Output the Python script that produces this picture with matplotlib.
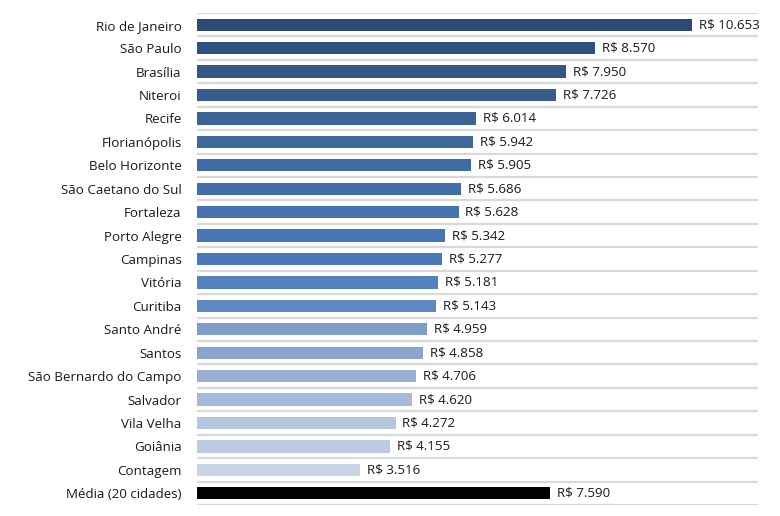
import matplotlib.pyplot as plt

cidades = ['Rio de Janeiro', 'São Paulo', 'Brasília', 'Niteroi', 'Recife',
           'Florianópolis', 'Belo Horizonte', 'São Caetano do Sul', 'Fortaleza',
           'Porto Alegre', 'Campinas', 'Vitória', 'Curitiba', 'Santo André',
           'Santos', 'São Bernardo do Campo', 'Salvador', 'Vila Velha',
           'Goiânia', 'Contagem', 'Média (20 cidades)']
valores = [10653, 8570, 7950, 7726, 6014, 5942, 5905, 5686, 5628, 5342,
           5277, 5181, 5143, 4959, 4858, 4706, 4620, 4272, 4155, 3516, 7590]
cores = ['#2e4a74', '#30507f', '#345786', '#375c8e', '#3b6398',
         '#3e679d', '#406ba3', '#436fa9', '#4572ae', '#4775b3',
         '#4a78b8', '#5581bd', '#5e88c0', '#7f9bc9', '#8ba4cd',
         '#99afd3', '#a7bad9', '#b5c4df', '#bccae2', '#c8d3e6', '#000000']

plt.rcParams['font.family'] = ['Open Sans', 'DejaVu Sans']

fig = plt.figure(figsize=(7.8, 5.16), dpi=100)
ax = fig.add_axes([197/780, 11/516, 561/780, 492/516])

pos = list(range(len(cidades)))
ax.hlines([p - 0.5 for p in pos] + [pos[-1] + 0.5], 0, 1,
          transform=ax.get_yaxis_transform(), color='#d9d9d9', lw=1.6, zorder=0)
ax.barh(pos, valores, height=0.52, color=cores, zorder=2)

for p, v in zip(pos, valores):
    txt = 'R$ ' + f'{v:,}'.replace(',', '.')
    ax.annotate(txt, (v, p), xytext=(5, 0), textcoords='offset points',
                va='center', ha='left', fontsize=9.6, color='#1a1a1a')

ax.set_yticks(pos)
ax.set_yticklabels(cidades, fontsize=9.6, color='#1a1a1a')
ax.tick_params(axis='y', length=0, pad=11)
ax.set_xticks([])
ax.set_xlim(0, 12073)
ax.set_ylim(20.5, -0.5)
for s in ax.spines.values():
    s.set_visible(False)

fig.savefig('out.png', dpi=100)
